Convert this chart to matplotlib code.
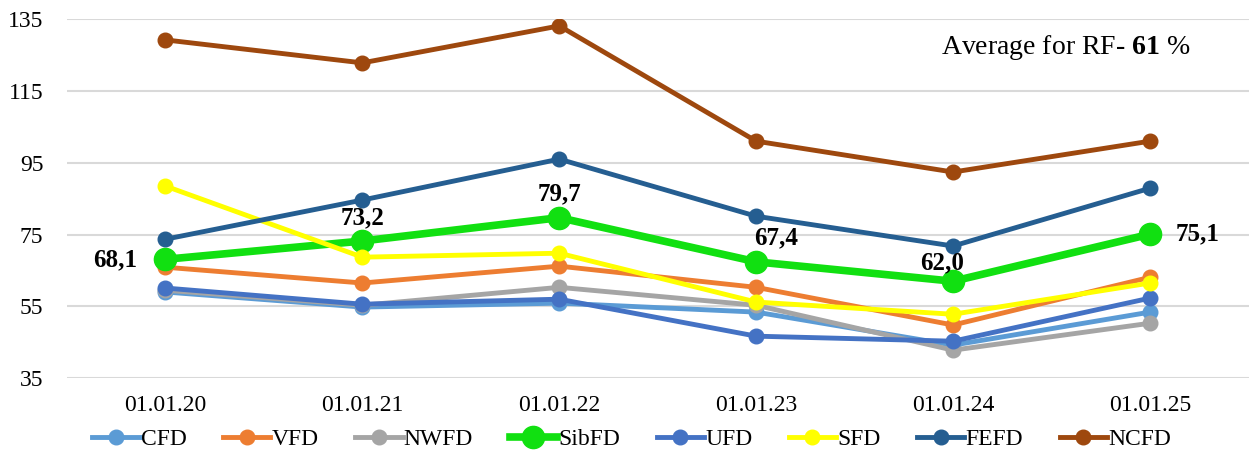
import matplotlib.pyplot as plt
import numpy as np

plt.rcParams['font.family'] = ['Liberation Serif', 'DejaVu Serif']
plt.rcParams['mathtext.fontset'] = 'custom'
plt.rcParams['mathtext.rm'] = 'Liberation Serif'
plt.rcParams['mathtext.bf'] = 'Liberation Serif:bold'

dates = ['01.01.20', '01.01.21', '01.01.22', '01.01.23', '01.01.24', '01.01.25']

cfd = [59.0, 54.8, 55.9, 53.4, 44.2, 53.4]
vfd = [65.9, 61.5, 66.2, 60.3, 49.8, 63.1]
nwfd = [59.5, 55.3, 60.3, 55.3, 42.8, 50.3]
sibfd = [68.1, 73.2, 79.7, 67.4, 62.0, 75.1]
ufd = [60.1, 55.6, 57.0, 46.7, 45.3, 57.3]
sfd = [88.5, 68.7, 69.8, 56.2, 52.8, 61.5]
fefd = [73.7, 84.6, 96.0, 80.1, 71.8, 87.9]
ncfd = [129.2, 122.8, 133.1, 101.0, 92.4, 101.0]

names = ['CFD', 'VFD', 'NWFD', 'SibFD', 'UFD', 'SFD', 'FEFD', 'NCFD']
series = [cfd, vfd, nwfd, sibfd, ufd, sfd, fefd, ncfd]
colors = ['#5B9BD5', '#ED7D31', '#A5A5A5', '#11E011', '#4472C4', '#FFFF00', '#255E91', '#9E480E']
rf_avg = 61

fig = plt.figure(figsize=(12.49, 4.54), dpi=100)
ax = fig.add_axes([0.0536, 0.167, 0.946, 0.791])

x = np.arange(len(dates))
for name, vals, col in zip(names, series, colors):
    if name == 'SibFD':
        ax.plot(x, vals, color=col, lw=5.5, marker='o', ms=16, label=name, zorder=3)
    else:
        ax.plot(x, vals, color=col, lw=3.5, marker='o', ms=10.5, label=name, zorder=3)

# value labels on the SibFD line
offsets = [(-36, 0), (0, 17), (0, 17), (14, 17), (-8, 13), (34, 0)]
for xi, v, (dx, dy) in zip(x, sibfd, offsets):
    ax.annotate(f'{v:.1f}'.replace('.', ','), (xi, v), xytext=(dx, dy),
                textcoords='offset points', ha='center', va='center',
                fontsize=18, fontweight='bold', zorder=5)

ax.text(0.740, 0.922, f'Average for RF- $\\mathbf{{{rf_avg}}}$ %', transform=ax.transAxes,
        fontsize=20, ha='left', va='center')

ax.set_xlim(-0.5, 5.5)
ax.set_ylim(35, 135)
ax.set_yticks([35, 55, 75, 95, 115, 135])
ax.set_xticks(x)
ax.set_xticklabels(dates)
ax.tick_params(length=0, labelsize=17)
ax.tick_params(axis='x', pad=12)
ax.tick_params(axis='y', pad=17)
ax.grid(axis='y', color='#D9D9D9', lw=1.5)
ax.set_axisbelow(True)
for s in ax.spines.values():
    s.set_visible(False)

ax.legend(loc='center', bbox_to_anchor=(0.478, -0.17), ncol=8, frameon=False,
          fontsize=17, handlelength=2.0, handletextpad=0.05, columnspacing=1.55,
          borderaxespad=0)

fig.savefig('out.png', dpi=100)
